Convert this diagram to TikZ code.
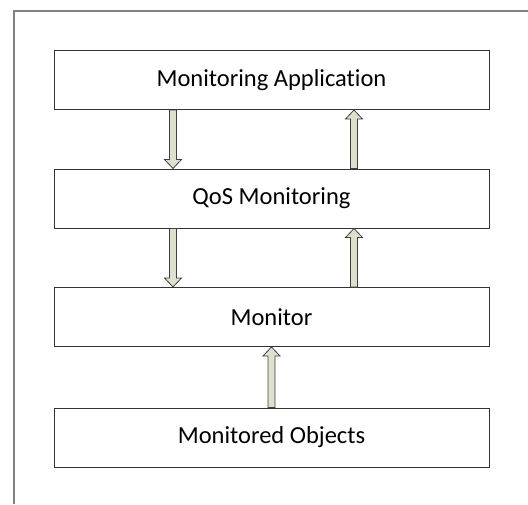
\documentclass[tikz,border=0pt]{standalone}
\usepackage{fontspec}
\setmainfont{Carlito}[Ligatures=NoCommon]
\usetikzlibrary{calc}

\definecolor{arrowfill}{RGB}{221,224,204}
\definecolor{framegray}{RGB}{128,128,128}

\tikzset{
  layer/.style={draw=black!80, line width=1pt, fill=white,
    minimum width=435pt, minimum height=59pt, inner sep=0pt,
    font=\fontsize{24.5}{28}\selectfont},
  blockarrow/.style={draw=black!75, line width=0.8pt, fill=arrowfill, line join=miter},
}

% fat arrow from #1 down to #2
\newcommand{\arrdown}[2]{%
  \draw[blockarrow] ($(#1)+(-3.5,0)$) -- ($(#2)+(-3.5,-9)$) -- ($(#2)+(-8.5,-9)$)
    -- (#2) -- ($(#2)+(8.5,-9)$) -- ($(#2)+(3.5,-9)$) -- ($(#1)+(3.5,0)$) -- cycle;}
% fat arrow from #1 up to #2
\newcommand{\arrup}[2]{%
  \draw[blockarrow] ($(#1)+(-3.5,0)$) -- ($(#2)+(-3.5,9)$) -- ($(#2)+(-8.5,9)$)
    -- (#2) -- ($(#2)+(8.5,9)$) -- ($(#2)+(3.5,9)$) -- ($(#1)+(3.5,0)$) -- cycle;}

\begin{document}
\begin{tikzpicture}[x=1pt,y=-1pt]
    \useasboundingbox (0,0) rectangle (528,504);
    \draw[framegray, line width=1.5pt] (14,504) -- (14,11) -- (528,11);

    \node[layer] (app) at (271.5,80) {Monitoring Application};
    \node[layer] (qos) at (271.5,198.5) {QoS Monitoring};
    \node[layer] (mon) at (271.5,317) {Monitor};
    \node[layer] (obj) at (271.5,437.5) {Monitored Objects};

    \coordinate (a1) at ([xshift=-98.5pt]app.south);
    \coordinate (a2) at ([xshift=-98.5pt]qos.north);
    \coordinate (a3) at ([xshift=-98.5pt]qos.south);
    \coordinate (a4) at ([xshift=-98.5pt]mon.north);
    \coordinate (b1) at ([xshift=82.5pt]app.south);
    \coordinate (b2) at ([xshift=82.5pt]qos.north);
    \coordinate (b3) at ([xshift=82.5pt]qos.south);
    \coordinate (b4) at ([xshift=82.5pt]mon.north);

    \arrdown{a1}{a2}
    \arrdown{a3}{a4}
    \arrup{b2}{b1}
    \arrup{b4}{b3}
    \arrup{obj.north}{mon.south}
\end{tikzpicture}
\end{document}
